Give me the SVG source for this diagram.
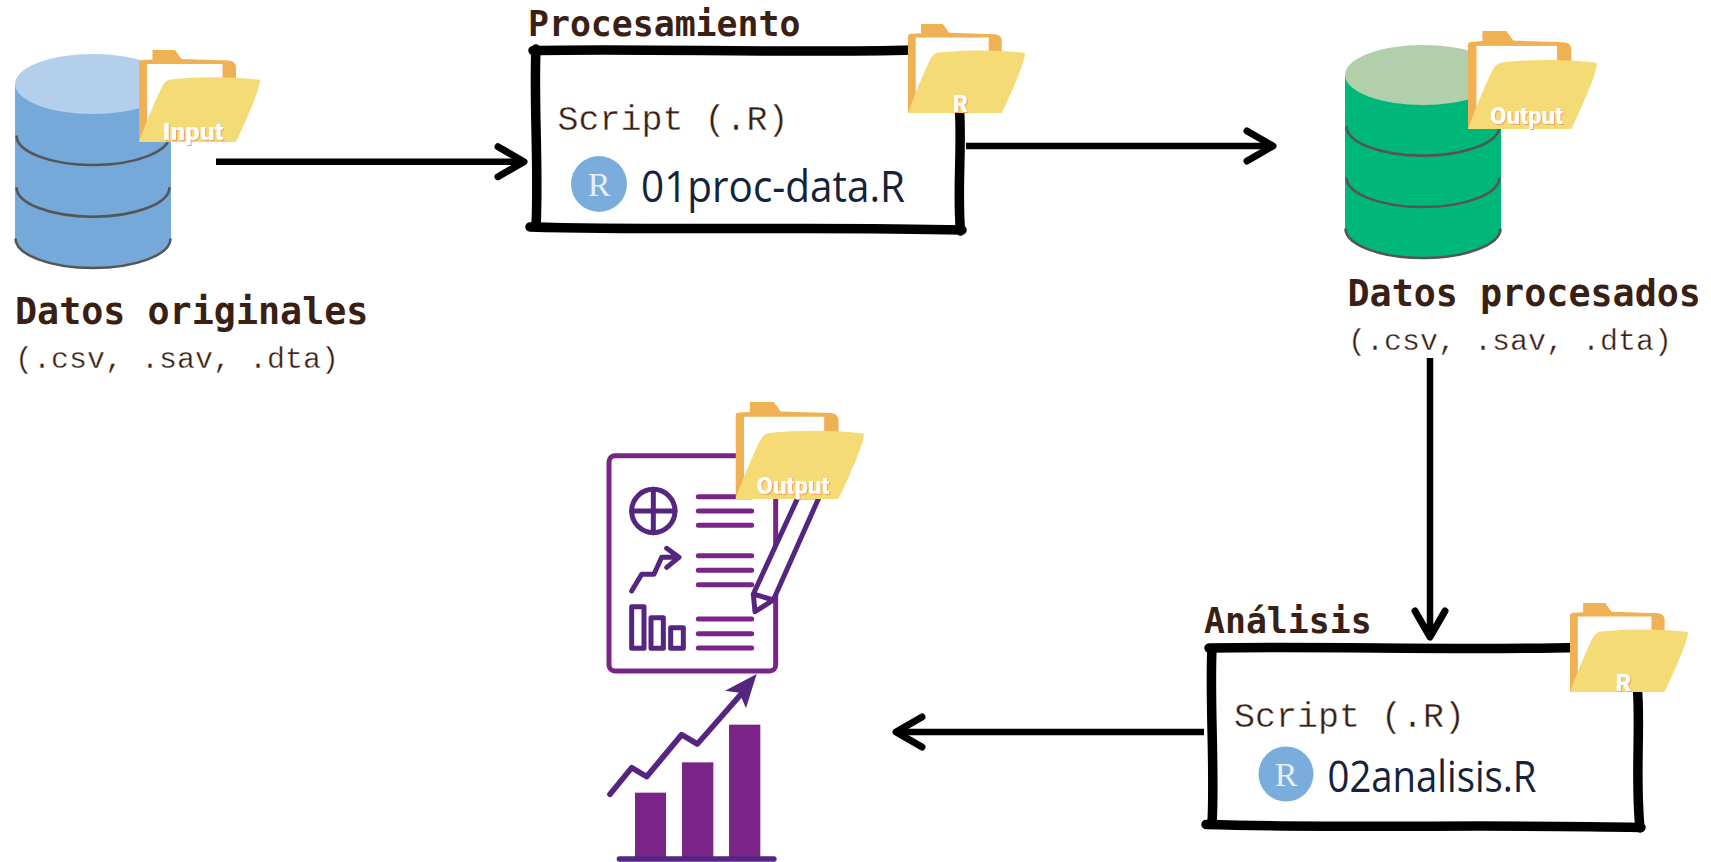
<svg xmlns="http://www.w3.org/2000/svg" xmlns:xlink="http://www.w3.org/1999/xlink" width="1711" height="862" viewBox="0 0 1711 862">
<style>
.bg{fill:#fff}
.band{fill:none;stroke:#555;stroke-width:2.6}
.blue .body{fill:#74a9d9}.blue .top{fill:#b3cfec}
.green .body{fill:#00b77a}.green .top{fill:#b2cfab}
.h{font-family:"DejaVu Sans Mono","Liberation Mono",monospace;font-weight:700;fill:#3a1f14}
.l{font-family:"Liberation Mono","DejaVu Sans Mono",monospace;fill:#3a1f14;stroke:#fff;stroke-width:.35}
.f{font-family:"Open Sans","Noto Sans",sans-serif;font-weight:500;fill:#14233a}
.badge{fill:#7aaddc}
.rb{font-family:"Liberation Serif",serif;fill:#e6eef7;font-size:34px;text-anchor:middle}
.tag{font-family:"Roboto","Noto Sans",sans-serif;font-weight:900;fill:#fff;filter:drop-shadow(1px 1.5px 0 #f2a05f)}
.box{fill:#fff;stroke:#000;stroke-width:9.500;stroke-linecap:round;stroke-linejoin:round}
.arrow{fill:none;stroke:#000;stroke-width:6.5;marker-end:url(#head)}
.doc{fill:#fff;stroke:#7b2488;stroke-width:15}
.dl{fill:none;stroke:#7b2488;stroke-width:15;stroke-linecap:round}
.dp{fill:none;stroke:#55257f;stroke-width:15;stroke-linecap:round;stroke-linejoin:round}
.bar{fill:#7b2488}
</style>
<defs>
<marker id="head" markerUnits="userSpaceOnUse" viewBox="-32 -20 36 40" markerWidth="36" markerHeight="40" refX="0" refY="0" orient="auto" overflow="visible">
<path d="M-26,-15 L0,0 L-26,15" fill="none" stroke="#000" stroke-width="7" stroke-linecap="round" stroke-linejoin="round"/>
</marker>
<symbol id="folder" viewBox="0 0 121 92" preserveAspectRatio="none">
<path d="M0,13 Q0,10 4,10 L13.5,9.5 L13.5,0 L36,0 L42.500,9 L90,10.500 Q97,11 97,18 L97,50 L0,92 Z" fill="#f0b054"/>
<rect x="8" y="14" width="75.500" height="60" fill="#fff"/>
<path d="M0,92 C8,70 20,42 24,35 Q27,30 32,29.500 C60,26 100,27 121,30 C121,40 105,75 97,92 Z" fill="#f4db75"/>
</symbol>
</defs>
<rect class="bg" width="1711" height="862"/>

<g id="connectors">
<path class="arrow" d="M216,161.700 H524"/>
<path class="arrow" d="M966,146 H1273"/>
<path class="arrow" d="M1430,358 V637"/>
<path class="arrow" d="M1204,732 H896"/>
</g>

<g id="datos-originales" class="blue">
<path class="body" d="M15,84 V238 A78,30 0 0 0 171,238 V84 Z"/>
<path class="band" d="M15.500,238.500 A77.500,29.500 0 0 0 170.500,238.500"/>
<path class="band" d="M16.500,135.500 A76.500,29.500 0 0 0 169.500,135.500"/>
<path class="band" d="M16.500,187.200 A76.500,29.500 0 0 0 169.500,187.200"/>
<ellipse class="top" cx="93" cy="84" rx="78" ry="30"/>
<use xlink:href="#folder" href="#folder" x="139" y="50" width="121" height="92"/>
<text class="tag" x="162.500" y="139.500" font-size="24" textLength="61" lengthAdjust="spacingAndGlyphs">Input</text>
<text class="h" x="15" y="324" font-size="36.700">Datos originales</text>
<text class="l" x="15" y="368" font-size="30">(.csv, .sav, .dta)</text>
</g>

<g id="procesamiento">
<text class="h" x="528" y="36" font-size="34.800">Procesamiento</text>
<path class="box" d="M533,50.500 C650,48 780,53.500 915,50 M536,49 C533.500,100 539,170 536,226 M530,227 C680,231 820,226 962,230 M959.500,110 C962,150 957,190 960.500,231"/>
<text class="l" x="557.500" y="130" font-size="35">Script (.R)</text>
<circle class="badge" cx="599" cy="184" r="28"/>
<text class="rb" x="599" y="196">R</text>
<text class="f" x="641" y="202" font-size="43" textLength="264" lengthAdjust="spacingAndGlyphs">01proc-data.R</text>
<use xlink:href="#folder" href="#folder" x="908" y="24" width="117" height="89"/>
<text class="tag" x="953" y="111.500" font-size="24" textLength="15" lengthAdjust="spacingAndGlyphs">R</text>
</g>

<g id="datos-procesados" class="green">
<path class="body" d="M1345,75 V228 A78,30 0 0 0 1501,228 V75 Z"/>
<path class="band" d="M1345.500,228.500 A77.500,29.500 0 0 0 1500.500,228.500"/>
<path class="band" d="M1346.500,126.200 A76.500,29.500 0 0 0 1499.500,126.200"/>
<path class="band" d="M1346.500,177.500 A76.500,29.500 0 0 0 1499.500,177.500"/>
<ellipse class="top" cx="1423" cy="75" rx="78" ry="30"/>
<use xlink:href="#folder" href="#folder" x="1468" y="31" width="129" height="98"/>
<text class="tag" x="1490" y="123.700" font-size="24" textLength="73" lengthAdjust="spacingAndGlyphs">Output</text>
<text class="h" x="1347.500" y="305.500" font-size="36.700">Datos procesados</text>
<text class="l" x="1348" y="350" font-size="30">(.csv, .sav, .dta)</text>
</g>

<g id="analisis">
<text class="h" x="1204" y="633" font-size="34.800">Análisis</text>
<path class="box" d="M1209,648 C1330,646 1450,650.500 1580,647.500 M1212,648 C1209.500,700 1215,770 1212,824 M1206,824.500 C1350,828.500 1500,824 1641,827.500 M1637.500,690 C1640.500,730 1635,780 1640,828"/>
<text class="l" x="1234" y="727" font-size="35">Script (.R)</text>
<circle class="badge" cx="1286" cy="774" r="27.500"/>
<text class="rb" x="1286" y="786">R</text>
<text class="f" x="1327.500" y="792" font-size="43" textLength="209" lengthAdjust="spacingAndGlyphs">02analisis.R</text>
<use xlink:href="#folder" href="#folder" x="1570" y="603" width="118" height="89"/>
<text class="tag" x="1615.500" y="690.500" font-size="24" textLength="16" lengthAdjust="spacingAndGlyphs">R</text>
</g>

<g id="reporte">
<g transform="translate(580,390) scale(.33333)">
<rect class="doc" x="87" y="197" width="500" height="646" rx="18"/>
<circle class="dp" cx="220" cy="363" r="65"/>
<path class="dp" d="M155,363 H285 M220,298 V428"/>
<path class="dl" d="M355,320 H515 M355,363 H515 M355,406 H515 M355,497 H515 M355,541 H515 M355,584 H515 M355,687 H515 M355,731 H515 M355,774 H515"/>
<path class="dp" d="M155,603 L185,553 H222 L245,502 H295 M260,475 L297,502 L260,532"/>
<path class="dp" d="M155,650 H192 V775 H155 Z M213,683 H250 V775 H213 Z M272,713 H310 V775 H272 Z"/>
<path class="dp" style="fill:#fff" d="M655,320 L520,612 L525,665 L580,630 L718,320 Z M520,612 L580,630"/>
</g>
<use xlink:href="#folder" href="#folder" x="735.500" y="402" width="128.500" height="97"/>
<text class="tag" x="756.500" y="494.300" font-size="24" textLength="73" lengthAdjust="spacingAndGlyphs">Output</text>
</g>

<g id="grafico" transform="translate(580,660) scale(.33333)">
<rect class="bar" x="165" y="398" width="93" height="195"/>
<rect class="bar" x="306" y="307" width="94" height="286"/>
<rect class="bar" x="447" y="194" width="94" height="399"/>
<path class="dp" style="stroke-width:16" d="M118,597 H582"/>
<path class="dp" style="stroke-width:17" d="M90,403 L155,323 L200,350 L305,224 L352,252 L490,95"/>
<path d="M530,42 L435,92 L478,98 L498,145 Z" fill="#55257f"/>
</g>
</svg>
